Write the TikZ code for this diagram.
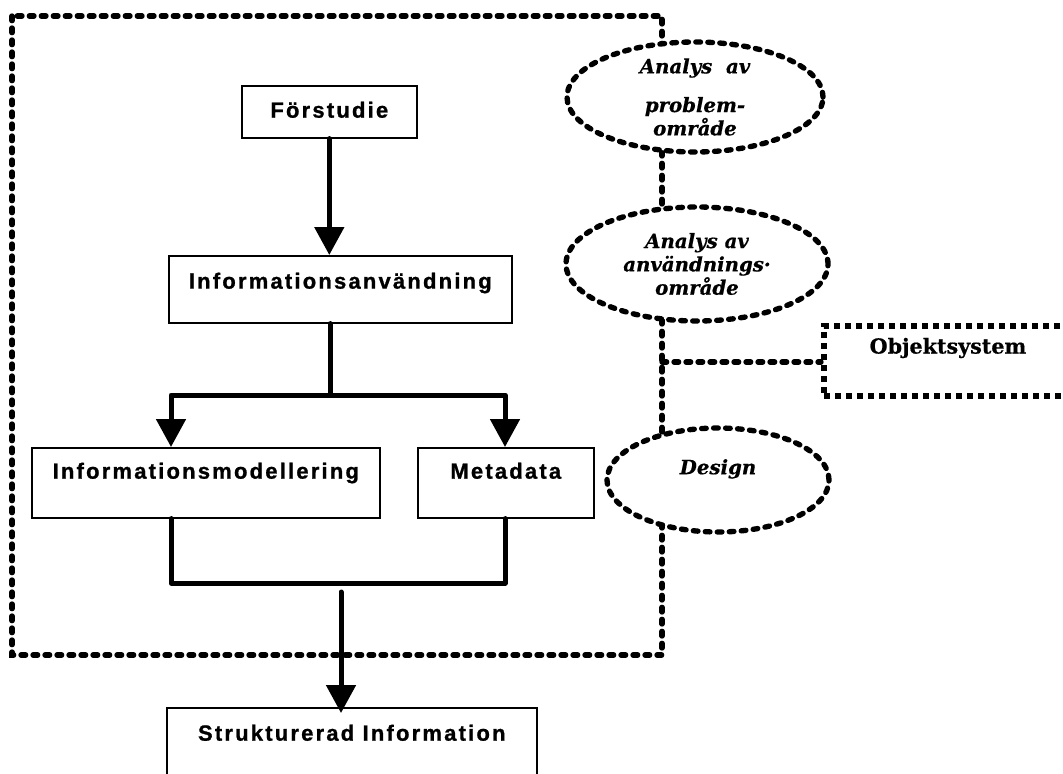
\documentclass[tikz,border=0pt]{standalone}
\usepackage{fontspec}
\usetikzlibrary{arrows.meta,shapes.geometric,calc}
\newfontfamily\boxfont{Liberation Sans}[LetterSpace=10, BoldFeatures={FakeBold=1}]
\newfontfamily\ovalfont{DejaVu Serif}[BoldFeatures={FakeBold=0.6}, BoldItalicFeatures={FakeBold=0.6}]
% lengths are given in drawing units of 0.75pt
\newcommand\upx[1]{#1*0.75pt}

\tikzset{
  bigtri/.tip={Triangle[width=21.75pt,length=21pt]},
  stepbox/.style={draw, line width=1.2pt, rectangle, anchor=north west, inner sep=0pt,
    font=\boxfont\bfseries\fontsize{16.5pt}{19pt}\selectfont, text height=12pt},
  oval/.style={draw, ellipse, fill=white, line width=4pt, line cap=round,
    dash pattern=on 3.5pt off 5.5pt, inner sep=-12pt, align=center,
    font=\ovalfont\bfseries\itshape\fontsize{14.8pt}{17.5pt}\selectfont},
  objbox/.style={draw, rectangle, anchor=north west, fill=white, line width=4.5pt,
    dash pattern=on 4.5pt off 3.75pt, inner sep=0pt,
    font=\ovalfont\bfseries\fontsize{15.5pt}{18pt}\selectfont,
    text height=11.5pt, text depth=22.7pt},
  roundash/.style={line width=4pt, line cap=round, dash pattern=on 3.5pt off 5.5pt},
  flow/.style={line width=3.75pt, line cap=round, line join=round}
}

\begin{document}
\begin{tikzpicture}[x=0.75pt, y=-0.75pt]
\fill[white] (0,0) rectangle (1063,774);
\path[use as bounding box] (0,0) rectangle (1063,774);
\clip (0,0) rectangle (1063,774);

% outer dashed frame
\draw[roundash] (12,16) rectangle (662,655);

% analysis phases along the right edge of the frame
\node[oval, minimum width=\upx{256}, minimum height=\upx{110}] (e1) at (695,97)
  {Analys~ av\\[11.5pt]problem-\\område};
\node[oval, minimum width=\upx{262}, minimum height=\upx{114}] (e2) at (697,264)
  {Analys av\\användnings·\\område};
\node[oval, minimum width=\upx{222}, minimum height=\upx{104},
  text height=11pt, text depth=19.7pt] (e3) at (718,480) {Design};

% object system box and its link to the frame
\node[objbox, minimum width=\upx{248}, minimum height=\upx{70}] (obj) at (821,323) {Objektsystem};
\coordinate (j) at (662,362);
\draw[roundash] (j) -- (obj.west |- j);

% work steps
\node[stepbox, minimum width=\upx{175}, minimum height=\upx{52}, text depth=3.2pt]
  (forst) at (241,85) {Förstudie};
\node[stepbox, minimum width=\upx{343}, minimum height=\upx{67}, text depth=13pt]
  (anv) at (168,255) {Informationsanvändning};
\node[stepbox, minimum width=\upx{348}, minimum height=\upx{70}, text depth=18.2pt]
  (imod) at (31,447) {Informationsmodellering};
\node[stepbox, minimum width=\upx{176}, minimum height=\upx{70}, text depth=18.2pt]
  (meta) at (417,447) {Metadata};
\node[stepbox, minimum width=\upx{370}, minimum height=\upx{100}, text depth=37.7pt]
  (strk) at (166,707) {Strukturerad Information};

% branch and merge points
\coordinate (s1) at (330,395);
\coordinate (b1) at (171,395);
\coordinate (b2) at (505,395);
\coordinate (c1) at (171,583);
\coordinate (c2) at (505,583);
\coordinate (st) at (341,592);

% flow connectors
\draw[flow,-bigtri] (forst.south) -- (forst.south |- anv.north);
\draw[flow] (s1 |- anv.south) -- (s1);
\draw[flow,bigtri-bigtri] (b1 |- imod.north) -- (b1) -- (b2) -- (b2 |- meta.north);
\draw[flow] (b1 |- imod.south) -- (c1) -- (c2) -- (b2 |- meta.south);
\draw[flow,-bigtri] (st) -- ($(st |- strk.north)+(0,6)$);
\end{tikzpicture}
\end{document}
